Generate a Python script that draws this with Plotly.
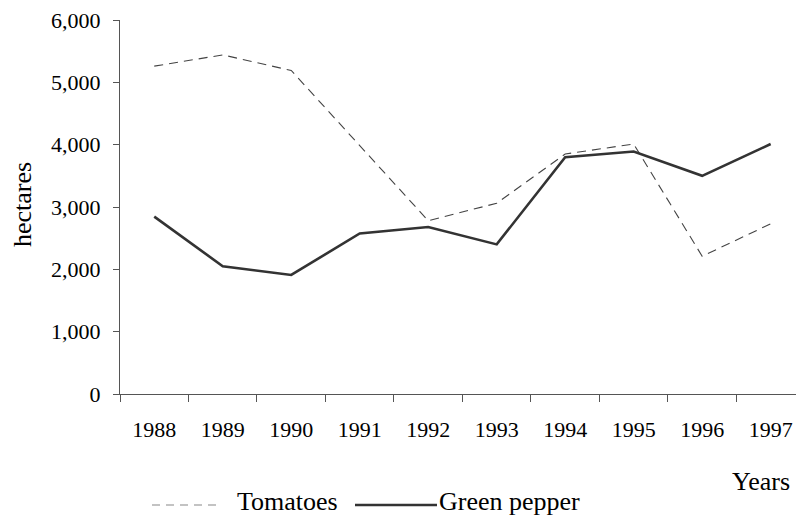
import plotly.graph_objects as go

years = ["1988", "1989", "1990", "1991", "1992", "1993", "1994", "1995", "1996", "1997"]
tomatoes = [5260, 5440, 5190, 3990, 2780, 3060, 3850, 4010, 2210, 2730]
green_pepper = [2845, 2050, 1910, 2575, 2680, 2400, 3800, 3890, 3500, 4010]
y_ticks = [0, 1000, 2000, 3000, 4000, 5000, 6000]

FONT = "Liberation Serif, Times New Roman, DejaVu Serif, serif"

W, H = 796, 518
ML, MR, MT, MB = 120, 0, 20, 124
PW, PH = W - ML - MR, H - MT - MB


def px(xs):  # page x -> paper fraction
    return (xs - ML) / PW


def py(ys):  # page y -> paper fraction
    return (H - MB - ys) / PH


fig = go.Figure()
fig.add_trace(go.Scatter(
    x=years, y=tomatoes, name="Tomatoes", mode="lines",
    line=dict(color="#444444", width=1.1, dash="9px,6px"),
    showlegend=False,
))
fig.add_trace(go.Scatter(
    x=years, y=green_pepper, name="Green pepper", mode="lines",
    line=dict(color="#333333", width=2.6),
    showlegend=False,
))

shapes = [
    dict(type="line", xref="paper", yref="paper", x0=px(152), x1=px(222), y0=py(505), y1=py(505),
         line=dict(color="#888888", width=1.2, dash="8px,6px")),
    dict(type="line", xref="paper", yref="paper", x0=px(355), x1=px(437), y0=py(505), y1=py(505),
         line=dict(color="#333333", width=2.6)),
]

annotations = [
    dict(text="Tomatoes", xref="paper", yref="paper", x=px(235), y=py(501),
         xanchor="left", yanchor="middle", showarrow=False,
         font=dict(family=FONT, size=26, color="black")),
    dict(text="Green pepper", xref="paper", yref="paper", x=px(437), y=py(501),
         xanchor="left", yanchor="middle", showarrow=False,
         font=dict(family=FONT, size=26, color="black")),
    dict(text="Years", xref="paper", yref="paper", x=px(792), y=py(481),
         xanchor="right", yanchor="middle", showarrow=False,
         font=dict(family=FONT, size=26, color="black")),
    dict(text="hectares", xref="paper", yref="paper", x=px(22), y=py(205),
         xanchor="center", yanchor="middle", showarrow=False, textangle=-90,
         font=dict(family=FONT, size=26, color="black")),
]

fig.update_layout(
    width=W, height=H,
    margin=dict(l=ML, r=MR, t=MT, b=MB, autoexpand=False),
    plot_bgcolor="white", paper_bgcolor="white",
    font=dict(family=FONT, size=22, color="black"),
    showlegend=False,
    shapes=shapes,
    annotations=annotations,
    xaxis=dict(
        type="category", range=[-0.5, 9.37],
        showline=True, linecolor="#555555", linewidth=1.2,
        ticks="outside", tickson="boundaries", ticklen=7, tickcolor="#555555",
        showgrid=False, zeroline=False, automargin=False,
        ticklabelstandoff=15, ticklabeloverflow="allow",
        tickfont=dict(family=FONT, size=22, color="black"),
    ),
    yaxis=dict(
        range=[0, 6000], tickvals=y_ticks, tickformat=",",
        showline=True, linecolor="#555555", linewidth=1.2,
        ticks="outside", ticklen=6, tickcolor="#555555",
        showgrid=False, zeroline=False, automargin=False,
        ticklabelstandoff=8, ticklabeloverflow="allow",
        tickfont=dict(family=FONT, size=22, color="black"),
    ),
)

fig.write_html(
    "out.html",
    config={"displayModeBar": False},
    post_script="document.body.style.margin='0px';document.body.style.overflow='hidden';",
)
